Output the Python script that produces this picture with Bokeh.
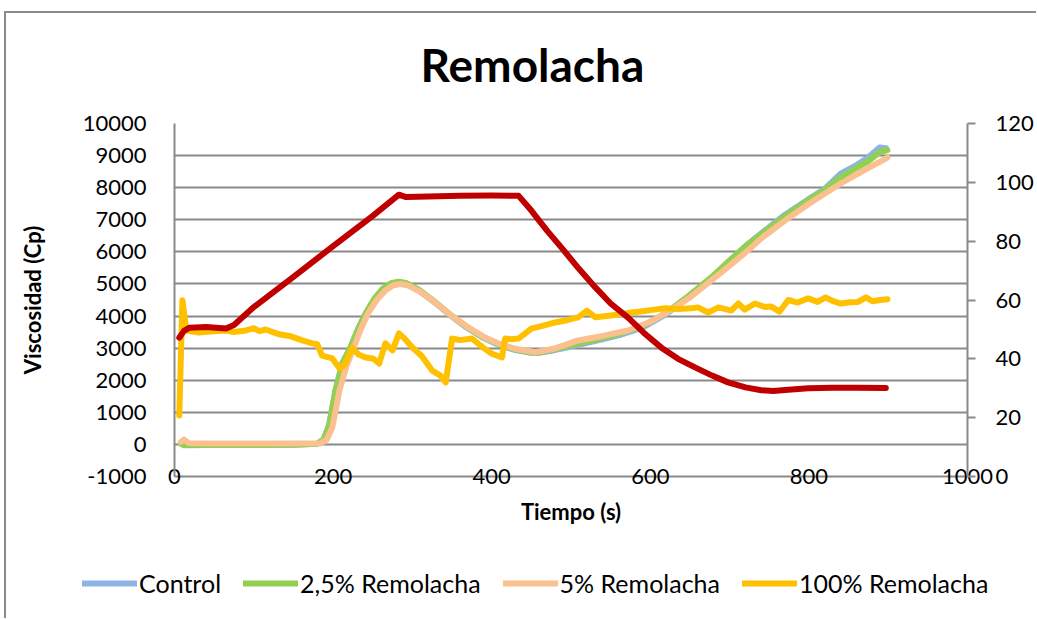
from bokeh.plotting import figure
from bokeh.models import (Range1d, LinearAxis, FixedTicker, Legend, LegendItem)
from bokeh.embed import file_html
from bokeh.resources import INLINE

# ---------------- data ----------------
t_control = [8, 12, 18, 40, 100, 150, 180, 188, 195, 203, 212, 222, 232, 241, 252, 262, 273,
             283, 293, 308, 328, 348, 368, 388, 408, 428, 448, 458, 475, 500, 530, 560, 590,
             620, 650, 680, 700, 720, 740, 770, 800, 820, 840, 860, 875, 889, 897]
control = [40, -20, -20, -20, -20, -10, 20, 150, 600, 1680, 2550, 3020, 3620, 4080, 4520, 4820,
           4990, 5050, 5000, 4800, 4430, 4020, 3650, 3340, 3110, 2950, 2860, 2850, 2920, 3050,
           3220, 3400, 3640, 4060, 4620, 5240, 5720, 6180, 6580, 7160, 7650, 7960, 8440, 8700,
           8950, 9250, 9230]

t_r25 = [8, 12, 18, 40, 100, 150, 180, 188, 195, 203, 212, 222, 232, 241, 252, 262, 273,
         283, 293, 308, 328, 348, 368, 388, 408, 428, 448, 458, 475, 500, 530, 560, 590,
         620, 650, 680, 700, 720, 740, 770, 800, 820, 840, 860, 875, 889, 899]
r25 = [30, -30, -25, -20, -20, -10, 20, 150, 600, 1680, 2550, 3020, 3620, 4080, 4540, 4840,
       5020, 5070, 5020, 4820, 4450, 4040, 3670, 3360, 3130, 2970, 2870, 2860, 2950, 3090,
       3260, 3440, 3680, 4100, 4660, 5270, 5730, 6170, 6550, 7110, 7620, 7930, 8320, 8620,
       8830, 9100, 9170]

t_r5 = [8, 12, 18, 40, 100, 150, 185, 192, 199, 208, 217, 226, 235, 244, 255, 266, 276, 285,
        295, 310, 330, 350, 370, 390, 410, 430, 455, 480, 509, 540, 572, 600, 619, 650, 677,
        700, 721, 740, 770, 800, 840, 870, 899]
r5 = [80, 150, 40, 30, 30, 30, 40, 150, 530, 1680, 2450, 3020, 3600, 4080, 4500, 4800, 4960,
      5000, 4950, 4750, 4400, 4000, 3650, 3350, 3130, 2980, 2870, 2990, 3240, 3380, 3550, 3820,
      4080, 4580, 5110, 5570, 6000, 6420, 6980, 7500, 8130, 8550, 8940]

t_r100 = [6, 10, 15, 22, 31, 45, 65, 75, 90, 100, 107, 115, 132, 145, 161, 174, 180, 186, 193,
          199, 208, 214, 224, 232, 241, 250, 258, 266, 275, 283, 290, 300, 312, 325, 335, 342,
          350, 360, 375, 390, 400, 413, 417, 425, 434, 450, 465, 480, 495, 509, 520, 531, 545,
          560, 576, 590, 605, 619, 635, 652, 660, 673, 686, 702, 711, 719, 732, 745, 752, 763,
          774, 786, 799, 811, 821, 830, 840, 852, 862, 872, 880, 890, 899]
r100 = [900, 4490, 3550, 3520, 3490, 3520, 3550, 3500, 3550, 3620, 3530, 3580, 3430, 3380, 3240,
        3150, 3120, 2770, 2720, 2680, 2370, 2460, 3020, 2800, 2710, 2680, 2520, 3150, 2930, 3460,
        3300, 3020, 2750, 2300, 2150, 1930, 3300, 3250, 3300, 3000, 2830, 2710, 3300, 3280, 3300,
        3610, 3700, 3800, 3870, 3960, 4170, 3960, 4000, 4050, 4110, 4150, 4200, 4240, 4220, 4240,
        4270, 4110, 4270, 4170, 4390, 4200, 4390, 4280, 4300, 4140, 4500, 4420, 4550, 4440, 4580,
        4470, 4390, 4430, 4440, 4580, 4460, 4500, 4520]

t_temp = [6, 12, 19, 40, 65, 75, 100, 150, 200, 250, 283, 292, 320, 360, 400, 434, 450, 470,
          488, 510, 531, 550, 572, 592, 614, 635, 657, 678, 698, 720, 740, 755, 770, 799, 830,
          860, 897]
temp = [47.2, 49.5, 50.6, 50.8, 50.3, 51.5, 57.6, 67.9, 78.3, 88.6, 95.8, 95.0, 95.2, 95.4,
        95.5, 95.4, 90.4, 83.5, 77.8, 70.6, 64.2, 58.8, 54.0, 48.8, 43.8, 40.0, 37.0, 34.3,
        32.0, 30.3, 29.3, 29.1, 29.4, 30.0, 30.2, 30.2, 30.1]

y_ticks = list(range(-1000, 10001, 1000))
x_ticks = [0, 200, 400, 600, 800, 1000]
temp_ticks = [0, 20, 40, 60, 80, 100, 120]

series_names = ["Control", "2,5% Remolacha", "5% Remolacha", "100% Remolacha"]
colors = ["#8EB4E3", "#92D050", "#FAC090", "#FFC000"]
temp_color = "#C00000"

FONT = "Lato"
GRID = "#898989"

# ---------------- main figure ----------------
W = 1036
H1 = 548
H2 = 70
p = figure(width=W, height=H1, output_backend="svg", toolbar_location=None,
           x_range=Range1d(0, 1000), y_range=Range1d(-1000, 10000),
           min_border_left=174, min_border_right=W - 968, min_border_top=123,
           min_border_bottom=H1 - 476, background_fill_color="white",
           border_fill_alpha=0, outline_line_color=None)
p.styles = {
    "background": ("linear-gradient(#8a8a8a,#8a8a8a) 4px 11px / 2px 100% no-repeat, "
                   "linear-gradient(#8a8a8a,#8a8a8a) 4px 11px / 100% 2px no-repeat, white"),
}
p.extra_y_ranges = {"temp": Range1d(0, 120)}

p.title.text = "Remolacha"
p.title.text_font = FONT
p.title.text_font_size = "46px"
p.title.text_font_style = "bold"
p.title.text_color = "black"
p.title.align = "left"
p.title.offset = 246
p.title.standoff = 64

# grid
p.xgrid.visible = False
p.ygrid.ticker = FixedTicker(ticks=y_ticks)
p.ygrid.grid_line_color = GRID
p.ygrid.grid_line_width = 2

# axes
xa = p.xaxis[0]
xa.ticker = FixedTicker(ticks=x_ticks)
xa.axis_label = "Tiempo (s)"
ya = p.yaxis[0]
ya.ticker = FixedTicker(ticks=y_ticks)
ya.axis_label = "Viscosidad (Cp)"
ya.major_label_overrides = {-1000: "-1000"}
for ax in (xa, ya):
    ax.axis_line_color = GRID
    ax.axis_line_width = 2
    ax.major_tick_out = 0
    ax.major_tick_in = 0
    ax.minor_tick_out = 0
    ax.minor_tick_in = 0
    ax.major_label_text_font = FONT
    ax.major_label_text_font_size = "22px"
    ax.major_label_text_color = "black"
    ax.axis_label_text_font = FONT
    ax.axis_label_text_font_size = "22px"
    ax.axis_label_text_font_style = "bold"
    ax.axis_label_text_color = "black"
xa.major_label_standoff = -8
xa.axis_label_standoff = 11
ya.major_label_standoff = 28
ya.axis_label_standoff = 34

ra = LinearAxis(y_range_name="temp", ticker=FixedTicker(ticks=temp_ticks))
ra.axis_line_color = GRID
ra.axis_line_width = 2
ra.major_tick_line_color = GRID
ra.major_tick_line_width = 2
ra.major_tick_out = 8
ra.major_tick_in = 0
ra.minor_tick_out = 0
ra.minor_tick_in = 0
ra.major_label_standoff = 20
ra.major_label_text_font = FONT
ra.major_label_text_font_size = "22px"
ra.major_label_text_color = "black"
p.add_layout(ra, "right")

# series
data = [(t_control, control), (t_r25, r25), (t_r5, r5), (t_r100, r100)]
for (tx, vy), col in zip(data, colors):
    p.line(tx, vy, line_color=col, line_width=6, line_join="round", line_cap="round")

p.line(t_temp, temp, line_color=temp_color, line_width=6, line_join="round",
       line_cap="round", y_range_name="temp")

# ---------------- legend strip (below the chart, separate root) ----------------
q = figure(width=W, height=H2, output_backend="svg", toolbar_location=None,
           x_range=Range1d(-2000, -1000), y_range=Range1d(-1000, 10000),
           x_axis_type=None, y_axis_type=None,
           min_border_left=0, min_border_right=0, min_border_top=0, min_border_bottom=0,
           background_fill_alpha=0, border_fill_alpha=0, outline_line_color=None)
q.styles = {
    "background": "linear-gradient(#8a8a8a,#8a8a8a) 4px 0px / 2px 100% no-repeat, white",
}
q.grid.visible = False
items = []
for (tx, vy), name, col in zip(data, series_names, colors):
    r = q.line(tx, vy, line_color=col, line_width=6, line_cap="round")
    items.append(LegendItem(label=name, renderers=[r]))

legend = Legend(items=items, orientation="horizontal", location=(82, 20),
                glyph_width=55, glyph_height=20, label_standoff=2, spacing=22,
                padding=0, margin=0, border_line_color=None, background_fill_alpha=0,
                label_text_font=FONT, label_text_font_size="25px", label_text_color="black")
q.add_layout(legend, "center")

open("out.html", "w").write(file_html([p, q], INLINE))
